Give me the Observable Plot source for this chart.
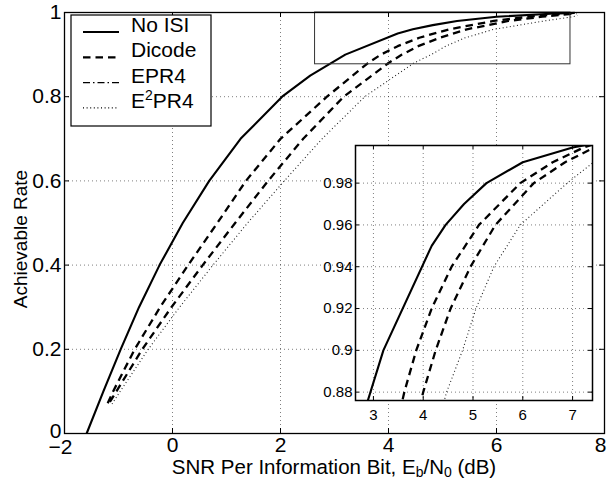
<!DOCTYPE html>
<html><head><meta charset="utf-8">
<script src="https://cdn.jsdelivr.net/npm/d3@7"></script>
<script src="https://cdn.jsdelivr.net/npm/@observablehq/plot@0.6"></script>
<style>
body{margin:0;background:#fff;}
#chart{position:relative;width:608px;height:480px;font-family:"Liberation Sans",Arial,Helvetica,sans-serif;}
#chart svg{position:absolute;left:0;top:0;overflow:visible}
</style></head><body><div id="chart"></div>
<script>
// ---- data ----
const seriesNames = ["No ISI", "Dicode", "EPR4", "E2PR4"];
const noIsiX = [-1.59, -1.28, -0.96, -0.62, -0.24, 0.19, 0.68, 1.26, 2.03, 2.55, 3.2, 4.17, 4.45, 4.82, 5.27, 6.0, 7.0, 7.45];
const noIsiY = [0, 0.1, 0.2, 0.3, 0.4, 0.5, 0.6, 0.7, 0.8, 0.85, 0.9, 0.95, 0.96, 0.97, 0.98, 0.99, 0.997, 0.999];
const dicodeX = [-1.2, -1.1, -0.7, -0.23, 0.29, 0.83, 1.36, 2.0, 2.86, 3.62, 3.86, 4.17, 4.57, 5.12, 5.95, 6.6, 7.22, 7.47];
const dicodeY = [0.072, 0.1, 0.2, 0.3, 0.4, 0.5, 0.6, 0.7, 0.8, 0.88, 0.9, 0.92, 0.94, 0.96, 0.98, 0.99, 0.997, 0.999];
const epr4X = [-1.16, -1.04, -0.56, -0.02, 0.56, 1.16, 1.77, 2.42, 3.17, 4.0, 4.25, 4.55, 4.95, 5.45, 6.22, 6.85, 7.35, 7.48];
const epr4Y = [0.075, 0.1, 0.2, 0.3, 0.4, 0.5, 0.6, 0.7, 0.8, 0.88, 0.9, 0.92, 0.94, 0.96, 0.98, 0.99, 0.996, 0.998];
const e2pr4X = [-1.12, -0.97, -0.45, 0.13, 0.75, 1.39, 2.07, 2.77, 3.56, 4.47, 4.79, 5.06, 5.42, 5.95, 6.89, 7.42, 7.5];
const e2pr4Y = [0.07, 0.1, 0.2, 0.3, 0.4, 0.5, 0.6, 0.7, 0.8, 0.88, 0.9, 0.92, 0.94, 0.96, 0.98, 0.99, 0.993];

const xTicks = [-2, 0, 2, 4, 6, 8];
const yTicks = [0, 0.2, 0.4, 0.6, 0.8, 1];
const xDomain = [-2, 8];
const yDomain = [0, 1];
const insetXTicks = [3, 4, 5, 6, 7];
const insetYTicks = [0.88, 0.9, 0.92, 0.94, 0.96, 0.98];
const insetXDomain = [2.64, 7.4];
const insetYDomain = [0.876, 0.998];
const zoomBox = [{x1: 2.64, x2: 7.37, y1: 0.877, y2: 1.0}];

const xLabelParts = [["SNR Per Information Bit, E", 0], ["b", 1], ["/N", 0], ["0", 1], [" (dB)", 0]];
const yLabel = "Achievable Rate";

// ---- build table ----
const xs = [noIsiX, dicodeX, epr4X, e2pr4X];
const ys = [noIsiY, dicodeY, epr4Y, e2pr4Y];
const rows = seriesNames.flatMap((s, i) => xs[i].map((x, j) => ({series: s, x, y: ys[i][j]})));
const styles = {
  "No ISI": {stroke: "#000", strokeWidth: 2.1, strokeDasharray: null},
  "Dicode": {stroke: "#000", strokeWidth: 2.3, strokeDasharray: "7.5,5"},
  "EPR4":   {stroke: "#000", strokeWidth: 2.3, strokeDasharray: "7.5,5"},
  "E2PR4":  {stroke: "#222", strokeWidth: 1.1, strokeDasharray: "1,2.6"}
};
const lineMarks = (clip) => seriesNames.map(s => Plot.line(rows.filter(d => d.series === s), {
  x: "x", y: "y", ...styles[s], strokeLinecap: "butt", clip
}));

const FONT = '"Liberation Sans",Arial,Helvetica,sans-serif';
const gridStyle = {stroke: "#000", strokeOpacity: 0.5, strokeDasharray: "1,3", strokeWidth: 1};
const fmt = d => (d < 0 ? "\u2212" : "") + String(Math.abs(d));

// ---- main plot ----
const mW = 608, mH = 480, mL = 64, mR = 4, mT = 12, mB = 47;
const fw = mW - mL - mR, fh = mH - mT - mB;
const main = Plot.plot({
  width: mW, height: mH, marginLeft: mL, marginRight: mR, marginTop: mT, marginBottom: mB,
  style: {fontFamily: FONT, fontSize: "21px", color: "#000", background: "transparent", overflow: "visible"},
  x: {domain: xDomain},
  y: {domain: yDomain},
  marks: [
    Plot.ruleX(xTicks, {x: d => d, ...gridStyle}),
    Plot.ruleY(yTicks, {y: d => d, ...gridStyle}),
    ...lineMarks(false),
    Plot.rect(zoomBox, {x1: "x1", x2: "x2", y1: "y1", y2: "y2", fill: "none", stroke: "#333", strokeWidth: 1}),
    Plot.tickX(xTicks, {x: d => d, insetTop: fh - 5, stroke: "#000"}),
    Plot.tickX(xTicks, {x: d => d, insetBottom: fh - 5, stroke: "#000"}),
    Plot.tickY(yTicks, {y: d => d, insetRight: fw - 5, stroke: "#000"}),
    Plot.tickY(yTicks, {y: d => d, insetLeft: fw - 5, stroke: "#000"}),
    Plot.frame({stroke: "#000", strokeWidth: 1.3}),
    Plot.axisX(xTicks.slice(1, -1), {tickSize: 0, tickPadding: 4, label: null, tickFormat: fmt}),
    Plot.axisX(xTicks.slice(0, 1), {tickSize: 0, tickPadding: 6, label: null, tickFormat: fmt, dx: -4}),
    Plot.axisX(xTicks.slice(-1), {tickSize: 0, tickPadding: 4, label: null, tickFormat: fmt, dx: -4}),
    Plot.axisY(yTicks.slice(1), {tickSize: 0, tickPadding: 3, label: null, tickFormat: fmt}),
    Plot.axisY(yTicks.slice(0, 1), {tickSize: 0, tickPadding: 3, label: null, tickFormat: fmt, dy: -2})
  ]
});

// ---- inset plot ----
const iW = 292, iH = 290, iL = 50, iR = 5, iT = 5, iB = 30;
const ifw = iW - iL - iR, ifh = iH - iT - iB;
const inset = Plot.plot({
  width: iW, height: iH, marginLeft: iL, marginRight: iR, marginTop: iT, marginBottom: iB,
  style: {fontFamily: FONT, fontSize: "15px", color: "#000", background: "transparent", overflow: "visible"},
  x: {domain: insetXDomain},
  y: {domain: insetYDomain},
  marks: [
    Plot.frame({fill: "#fff"}),
    Plot.ruleX(insetXTicks, {x: d => d, ...gridStyle}),
    Plot.ruleY(insetYTicks, {y: d => d, ...gridStyle}),
    ...lineMarks(true),
    Plot.tickX(insetXTicks, {x: d => d, insetTop: ifh - 4, stroke: "#000"}),
    Plot.tickX(insetXTicks, {x: d => d, insetBottom: ifh - 4, stroke: "#000"}),
    Plot.tickY(insetYTicks, {y: d => d, insetRight: ifw - 4, stroke: "#000"}),
    Plot.tickY(insetYTicks, {y: d => d, insetLeft: ifw - 4, stroke: "#000"}),
    Plot.frame({stroke: "#000", strokeWidth: 1.5}),
    Plot.axisX(insetXTicks, {tickSize: 0, tickPadding: 9, label: null, tickFormat: fmt}),
    Plot.axisY(insetYTicks, {tickSize: 0, tickPadding: 3, label: null, tickFormat: fmt})
  ]
});

const chart = document.getElementById("chart");
chart.appendChild(main);
inset.style.left = "305px";
inset.style.top = "140px";
chart.appendChild(inset);

// ---- axis labels & legend (text) ----
const svg = d3.select(main);
const xl = svg.append("text").attr("x", 334).attr("y", 474).attr("text-anchor", "middle")
  .attr("font-size", 20.5).attr("fill", "#000");
xLabelParts.forEach(([t, sub], i) => {
  const ts = xl.append("tspan").text(t);
  if (sub) ts.attr("font-size", 14).attr("dy", 3);
  else if (i > 0) ts.attr("dy", -3);
});
svg.append("text").attr("transform", "translate(27,239) rotate(-90)").attr("text-anchor", "middle")
  .attr("font-size", 19).attr("fill", "#000").text(yLabel);

const lg = svg.append("g");
lg.append("rect").attr("x", 71).attr("y", 15).attr("width", 140).attr("height", 111)
  .attr("fill", "#fff").attr("stroke", "#000").attr("stroke-width", 1.2);
const legendStyles = {
  "No ISI": {w: 2.1, dash: null},
  "Dicode": {w: 2.3, dash: "7.5,5"},
  "EPR4": {w: 1.2, dash: "7,3,1.5,3"},
  "E2PR4": {w: 1.1, dash: "1,2.6"}
};
seriesNames.forEach((s, i) => {
  const y = 32 + i * 25.3;
  lg.append("line").attr("x1", 83).attr("x2", 119).attr("y1", y).attr("y2", y)
    .attr("stroke", "#000").attr("stroke-width", legendStyles[s].w)
    .attr("stroke-dasharray", legendStyles[s].dash);
  const t = lg.append("text").attr("x", 131).attr("y", y).attr("text-anchor", "start")
    .attr("font-size", 21).attr("fill", "#000");
  if (s === "E2PR4") {
    t.append("tspan").text("E");
    t.append("tspan").text("2").attr("font-size", 14).attr("dy", -8);
    t.append("tspan").text("PR4").attr("dy", 8);
  } else t.text(s);
});
</script></body></html>
